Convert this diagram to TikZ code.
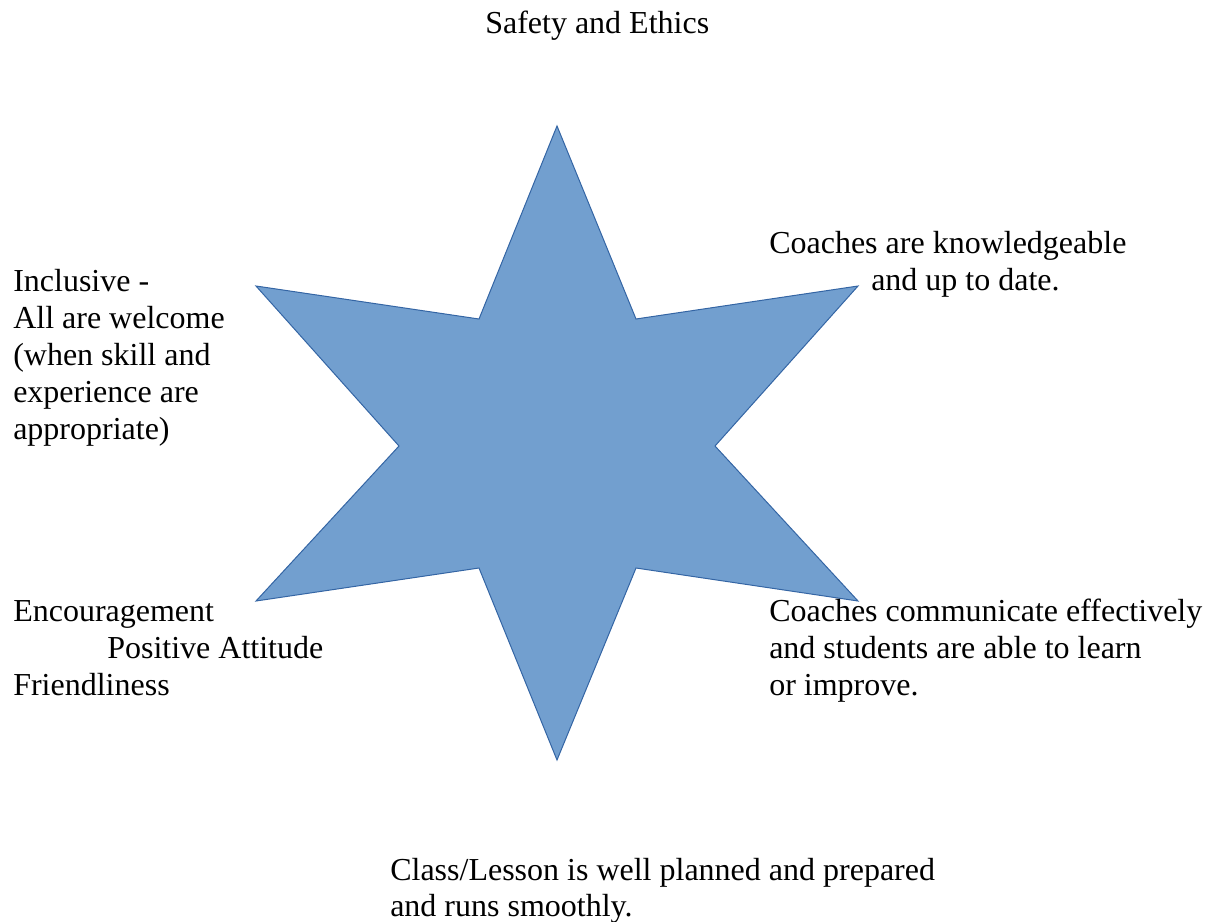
\documentclass[tikz,border=0pt]{standalone}
\usepackage{fontspec}
\setmainfont{Liberation Serif}
\definecolor{starfill}{HTML}{729FCF}
\definecolor{starline}{HTML}{3465A4}
\begin{document}
\begin{tikzpicture}[x=0.75pt,y=-0.75pt,
  lbl/.style={anchor=base west,inner sep=0pt,font=\fontsize{24}{27.6}\selectfont},
  star/.style={fill=starfill,draw=starline,line width=0.75pt,line join=miter}]
\useasboundingbox (0,0) rectangle (1212,921);
% six-pointed star
\draw[star] (557,126) -- (636,319) -- (858,286) -- (715,446) -- (858,601)
  -- (636,568) -- (557,760) -- (479,568) -- (256,601) -- (399,446)
  -- (256,286) -- (479,319) -- cycle;
% labels around the star
\node[lbl] (top) at (485,33) {Safety and Ethics};
\node[lbl] (ne1) at (769,253) {Coaches are knowledgeable};
\node[lbl] (ne2) at (871,290) {and up to date.};
\node[lbl] (nw1) at (13,291) {Inclusive -};
\node[lbl] (nw2) at (13,328) {All are welcome};
\node[lbl] (nw3) at (13,365) {(when skill and};
\node[lbl] (nw4) at (13,402) {experience are};
\node[lbl] (nw5) at (13,439) {appropriate)};
\node[lbl] (sw1) at (13,621) {Encouragement};
\node[lbl] (sw2) at (107,658) {Positive Attitude};
\node[lbl] (sw3) at (13,695) {Friendliness};
\node[lbl] (se1) at (769,621) {Coaches communicate effectively};
\node[lbl] (se2) at (769,658) {and students are able to learn};
\node[lbl] (se3) at (769,695) {or improve.};
\node[lbl] (bot1) at (390,880) {Class/Lesson is well planned and prepared};
\node[lbl] (bot2) at (390,916) {and runs smoothly.};
\end{tikzpicture}
\end{document}
